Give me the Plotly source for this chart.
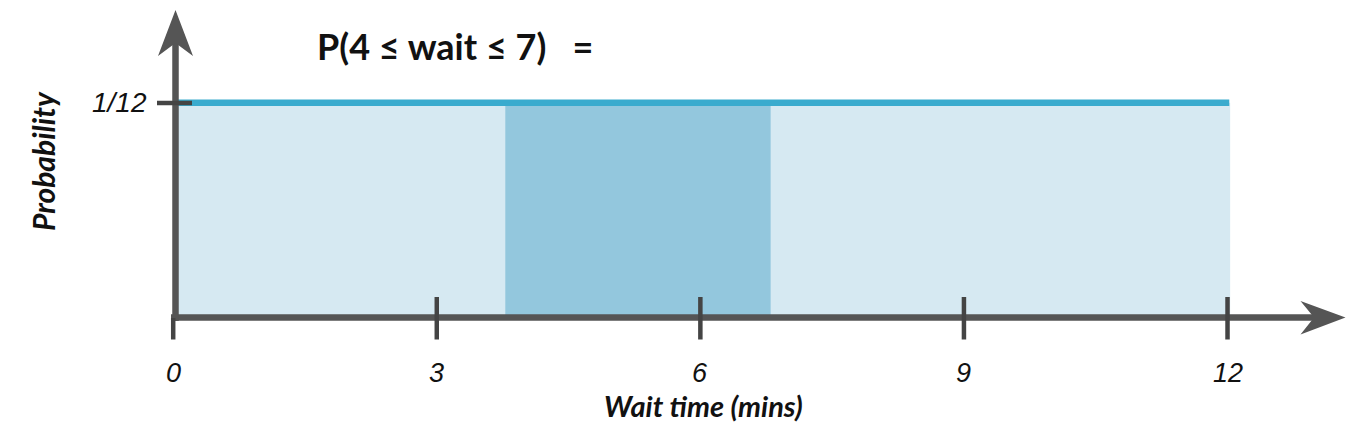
import plotly.graph_objects as go

# ---- data ----
tick_values = [0, 3, 6, 9, 12]
tick_labels = ["0", "3", "6", "9", "12"]
x_min, x_max = 0, 12
prob = 1 / 12
prob_label = "1/12"
shade_range = [3.78, 6.8]
title_text = "P(4 ≤ wait ≤ 7)   ="
x_title = "Wait time (mins)"
y_title = "Probability"

# ---- geometry (pixel <-> data) ----
W, H = 1350, 444
X0PX, XSCALE = 173.2, 87.86          # px of x=0, px per minute
Y0PX, YSCALE = 317.5, 214.8 * 12     # px of y=0, px per probability unit


def dx(px):
    return (px - X0PX) / XSCALE


def dy(py):
    return (Y0PX - py) / YSCALE


AX = "#555555"
TK = "#444444"
shapes = []
# light uniform area
shapes.append(dict(type="rect", x0=x_min, x1=x_max + 0.03, y0=0, y1=prob,
                   fillcolor="#D6E9F2", line_width=0, layer="below"))
# highlighted interval
shapes.append(dict(type="rect", x0=shade_range[0], x1=shade_range[1], y0=0, y1=prob,
                   fillcolor="#93C7DD", line_width=0, layer="below"))
# density line
shapes.append(dict(type="line", x0=dx(177), x1=x_max + 0.02, y0=prob, y1=prob,
                   line=dict(color="#3AABCE", width=6.5)))
# x axis line
shapes.append(dict(type="line", x0=dx(171), x1=dx(1318), y0=0, y1=0,
                   line=dict(color=AX, width=6.5)))
# y axis line
shapes.append(dict(type="line", x0=dx(175.5), x1=dx(175.5), y0=dy(321), y1=dy(40),
                   line=dict(color=AX, width=6.5)))


# arrow heads
def path(points):
    return "M " + " L ".join(f"{dx(a)},{dy(b)}" for a, b in points) + " Z"


shapes.append(dict(type="path", path=path([(175.5, 10), (193, 56), (175.5, 43), (158, 56)]),
                   fillcolor=AX, line_width=0))
shapes.append(dict(type="path", path=path([(1345.5, 317.5), (1300.5, 334.5), (1314, 317.5), (1300.5, 301)]),
                   fillcolor=AX, line_width=0))
# x ticks
for v in tick_values:
    top = dy(318) if v == 0 else dy(297)
    shapes.append(dict(type="line", x0=v, x1=v, y0=dy(339.5), y1=top,
                       line=dict(color=TK, width=4.5)))
# y tick at 1/12
shapes.append(dict(type="line", x0=dx(157), x1=dx(192), y0=prob - 0.00008, y1=prob - 0.00008,
                   line=dict(color=TK, width=4.5)))

annotations = []
for v, lab in zip(tick_values, tick_labels):
    annotations.append(dict(x=v, y=dy(373), text=f"<i>{lab}</i>", showarrow=False,
                            xanchor="center", yanchor="middle",
                            font=dict(family="Liberation Sans", size=27, color="#111111")))
annotations.append(dict(x=dx(149), y=dy(102), text=f"<i>{prob_label}</i>", showarrow=False,
                        xanchor="right", yanchor="middle",
                        font=dict(family="Liberation Sans", size=28, color="#111111")))
annotations.append(dict(x=dx(703), y=dy(405), text=f"<b><i>{x_title}</i></b>", showarrow=False,
                        xanchor="center", yanchor="middle",
                        font=dict(family="Lato", size=29, color="#111111")))
annotations.append(dict(x=dx(43), y=dy(161), text=f"<b><i>{y_title}</i></b>", showarrow=False,
                        textangle=-90, xanchor="center", yanchor="middle",
                        font=dict(family="Lato", size=30, color="#111111")))
annotations.append(dict(x=dx(315), y=dy(46), text=f"<b>{title_text}</b>", showarrow=False,
                        xanchor="left", yanchor="middle",
                        font=dict(family="Lato", size=36, color="#111111")))

fig = go.Figure()
fig.add_trace(go.Scatter(x=[x_min, x_max], y=[prob, prob], mode="lines",
                         line=dict(width=0), hoverinfo="skip", showlegend=False))
fig.update_layout(
    width=W, height=H, margin=dict(l=0, r=0, t=0, b=0),
    paper_bgcolor="white", plot_bgcolor="white",
    xaxis=dict(range=[dx(0), dx(W)], visible=False, fixedrange=True),
    yaxis=dict(range=[dy(H), dy(0)], visible=False, fixedrange=True),
    shapes=shapes, annotations=annotations, showlegend=False,
)
fig.write_html("out.html", config={"displayModeBar": False},
               post_script="document.body.style.margin='0';")
